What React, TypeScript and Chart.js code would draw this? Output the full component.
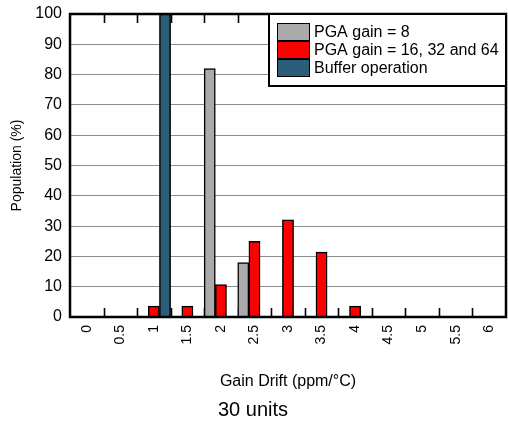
import React, { useEffect, useRef } from "react";
import { Chart, registerables } from "chart.js";

Chart.register(...registerables);

const categories = ["0", "0.5", "1", "1.5", "2", "2.5", "3", "3.5", "4", "4.5", "5", "5.5", "6"];
const pgaGain8 = [null, null, null, null, 82, 18, null, null, null, null, null, null, null];
const pgaGainHigh = [null, null, 3.6, 3.6, 10.7, 25, 32.1, 21.4, 3.6, null, null, null, null];
const bufferOp = [null, null, 100, null, null, null, null, null, null, null, null, null, null];
const seriesNames = ["PGA gain = 8", "PGA gain = 16, 32 and 64", "Buffer operation"];
const seriesColors = ["#aaaaaa", "#ff0000", "#2c5d78"];
const yTicks = [0, 10, 20, 30, 40, 50, 60, 70, 80, 90, 100];

const FONT = "'Liberation Sans', Arial, Helvetica, sans-serif";

function drawInwardTicks(chart: any) {
  const { ctx, chartArea } = chart;
  const left = chartArea.left;
  const w = chartArea.right - chartArea.left;
  const n = categories.length;
  ctx.save();
  ctx.beginPath();
  ctx.rect(0, 0, chart.width, chart.height);
  chart.data.datasets.forEach((_: any, d: number) => {
    const meta = chart.getDatasetMeta(d);
    meta.data.forEach((el: any, idx: number) => {
      const v = chart.data.datasets[d].data[idx];
      if (v === null || v === undefined) return;
      if (!Number.isFinite(el.y) || !Number.isFinite(el.x) || !Number.isFinite(el.base)) return;
      const top = Math.min(el.y, el.base);
      const h = Math.abs(el.base - el.y);
      ctx.rect(el.x - el.width / 2, top, el.width, h);
    });
  });
  ctx.clip("evenodd");
  ctx.strokeStyle = "#000000";
  ctx.lineWidth = 1.6;
  ctx.beginPath();
  for (let i = 1; i < n; i++) {
    const x = Math.round(left + (i * w) / n) + 0.5;
    ctx.moveTo(x, chartArea.bottom);
    ctx.lineTo(x, chartArea.bottom - 9);
    ctx.moveTo(x, chartArea.top);
    ctx.lineTo(x, chartArea.top + 9);
  }
  ctx.stroke();
  ctx.restore();
}

const framePlugin = {
  id: "frameAndTicks",
  afterDatasetsDraw(chart: any) {
    drawInwardTicks(chart);
    const { ctx, chartArea } = chart;
    ctx.save();
    ctx.strokeStyle = "#000";
    ctx.lineWidth = 2.5;
    ctx.strokeRect(chartArea.left, chartArea.top, chartArea.right - chartArea.left, chartArea.bottom - chartArea.top);
    // legend box
    const bw = 237;
    const bx = chartArea.right - bw;
    const by = chartArea.top;
    const bh = 72;
    ctx.fillStyle = "#fff";
    ctx.fillRect(bx, by, bw, bh);
    ctx.lineWidth = 2;
    ctx.strokeRect(bx, by, bw, bh);
    ctx.font = "16px " + FONT;
    ctx.textBaseline = "middle";
    ctx.textAlign = "left";
    for (let i = 0; i < seriesNames.length; i++) {
      const sy = by + 9 + i * 18;
      ctx.fillStyle = seriesColors[i];
      ctx.fillRect(bx + 8, sy, 33, 18);
      ctx.lineWidth = 1;
      ctx.strokeStyle = "#000";
      ctx.strokeRect(bx + 8.5, sy + 0.5, 32, 17);
      ctx.fillStyle = "#000";
      ctx.fillText(seriesNames[i], bx + 45, sy + 9.5);
    }
    ctx.restore();
  },
};

export default function App() {
  const ref = useRef<HTMLCanvasElement>(null);
  useEffect(() => {
    document.body.style.margin = "0";
    const chart = new Chart(ref.current as HTMLCanvasElement, {
      type: "bar",
      data: {
        labels: categories,
        datasets: [
          { label: seriesNames[0], data: pgaGain8 as any, backgroundColor: seriesColors[0], borderColor: "#000", borderWidth: 1.5 },
          { label: seriesNames[1], data: pgaGainHigh as any, backgroundColor: seriesColors[1], borderColor: "#000", borderWidth: 1.5 },
          { label: seriesNames[2], data: bufferOp as any, backgroundColor: seriesColors[2], borderColor: "#000", borderWidth: 1.5 },
        ],
      },
      options: {
        responsive: false,
        animation: false,
        maintainAspectRatio: false,
        layout: { padding: { top: 14, right: 2, left: 0, bottom: 0 } },
        datasets: { bar: { categoryPercentage: 1, barPercentage: 1, grouped: true } },
        plugins: {
          legend: { display: false },
          tooltip: { enabled: false },
          title: {
            display: true,
            position: "bottom",
            text: "30 units",
            color: "#000",
            font: { family: FONT, size: 20, weight: "normal" },
            padding: { top: 0, bottom: 0 },
          },
        },
        scales: {
          x: {
            offset: true,
            grid: { display: false, drawTicks: false },
            border: { display: false },
            ticks: {
              autoSkip: false,
              minRotation: 90,
              maxRotation: 90,
              padding: 8,
              color: "#000",
              font: { family: FONT, size: 14 },
            },
            title: {
              display: true,
              text: "Gain Drift (ppm/°C)",
              color: "#000",
              font: { family: FONT, size: 16 },
              padding: { top: 0, bottom: 7 },
            },
            afterFit: (s: any) => {
              s.height = 81;
              s.paddingLeft = 0;
              s.paddingRight = 0;
            },
          },
          y: {
            min: 0,
            max: 100,
            afterBuildTicks: (s: any) => {
              s.ticks = yTicks.map((v) => ({ value: v }));
            },
            grid: { color: "#8c8c8c", lineWidth: 1, drawTicks: false },
            border: { display: false },
            ticks: {
              padding: 8,
              color: "#000",
              font: { family: FONT, size: 16 },
            },
            title: {
              display: true,
              text: "Population (%)",
              color: "#000",
              font: { family: FONT, size: 14 },
              padding: { top: 9, bottom: 0 },
            },
            afterFit: (s: any) => {
              s.width = 70;
              s.paddingTop = 0;
              s.paddingBottom = 0;
            },
          },
        },
      },
      plugins: [framePlugin],
    });
    return () => chart.destroy();
  }, []);
  return <canvas ref={ref} width={508} height={422} style={{ display: "block" }} />;
}
